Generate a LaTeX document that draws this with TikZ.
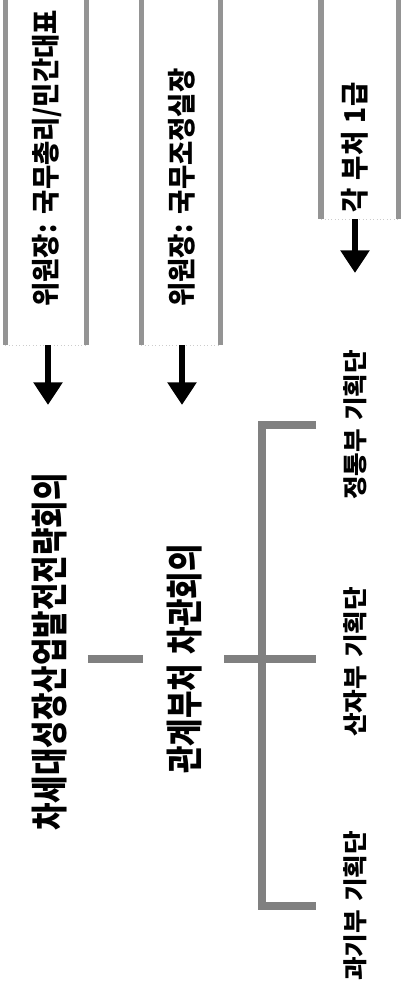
\documentclass[tikz,border=0pt]{standalone}
\usepackage{fontspec}
\newfontfamily\krnarrow[FakeStretch=0.8, WordSpace=1.4]{Noto Sans CJK KR}
\newfontfamily\krmain[FakeStretch=0.92, WordSpace=1.4]{Noto Sans CJK KR}
\newfontfamily\krtext[FakeStretch=1.04, WordSpace=1.4]{Noto Sans CJK KR}
\usetikzlibrary{arrows.meta}
\definecolor{scangray}{gray}{0.5}
\definecolor{edgegray}{gray}{0.58}
\begin{document}
\begin{tikzpicture}[x=0.75pt, y=-0.75pt,
	title/.style={rotate=90, inner sep=0pt, font=\krnarrow\bfseries\fontsize{28pt}{29pt}\selectfont},
	chair/.style={rotate=90, inner sep=0pt, anchor=west, font=\krmain\bfseries\fontsize{21.5pt}{22pt}\selectfont},
	team/.style={rotate=90, inner sep=0pt, font=\krtext\bfseries\fontsize{18.5pt}{19pt}\selectfont},
	box/.style={inner sep=0pt, minimum height=262.5pt},
	side/.style={draw=edgegray, line width=4pt},
	base/.style={draw=black!20, line width=0.6pt, dotted},
	arr/.style={line width=4.5pt, -{Triangle[length=17pt, width=21pt]}},
	link/.style={draw=scangray, line width=6.5pt}]

	\useasboundingbox (0,0) rectangle (400,999);

	% chair boxes
	\node[box, minimum width=60.4pt] (b1) at (45.75, 170) {};
	\node[box, minimum width=59.25pt] (b2) at (181, 170) {};
	\node[box, minimum width=58pt, minimum height=168pt] (b3) at (360, 107) {};

	\node[chair] (c1) at (47, 307) {위원장: 국무총리/민간대표};
	\node[chair] (c2) at (182, 307) {위원장: 국무조정실장};
	\node[chair] (c3) at (355, 213) {각 부처 1급};

	\foreach \b in {b1, b2, b3} {
		\draw[side] (\b.north west) -- (\b.south west);
		\draw[side] (\b.north east) -- (\b.south east);
		\draw[base] (\b.south west) -- (\b.south east);
	}

	% councils
	\node[title] (t1) at (50, 652) {차세대성장산업발전전략회의};
	\node[title] (t2) at (185, 659) {관계부처 차관회의};

	% planning teams
	\node[team] (g1) at (355, 425) {정통부 기획단};
	\node[team] (g2) at (355, 662) {산자부 기획단};
	\node[team] (g3) at (355, 906) {과기부 기획단};

	\coordinate (a1) at (48, 405);
	\coordinate (a2) at (182, 405);
	\coordinate (a3) at (355, 273);
	\coordinate (spine) at (262, 659);
	\coordinate (armend) at (316, 659);

	\draw[arr] (b1.south -| a1) -- (a1);
	\draw[arr] (b2.south -| a2) -- (a2);
	\draw[arr] (b3.south -| a3) -- (a3);

	\draw[link, shorten <=15pt, shorten >=18pt] (t2.north -| t1.south) -- (t2.north);
	\draw[link, shorten <=16pt] (t2.south) -- (t2.south -| armend);
	\draw[link] (g1.north -| armend) -- (g1.north -| spine) -- (g3.north -| spine) -- (g3.north -| armend);
\end{tikzpicture}
\end{document}
